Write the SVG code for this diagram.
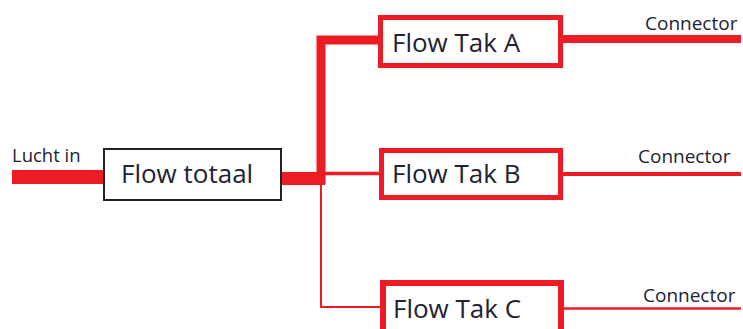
<svg xmlns="http://www.w3.org/2000/svg" width="743" height="329" viewBox="0 0 743 329">
<style>
.ln{fill:none;stroke:#ed1c24;stroke-linejoin:miter;stroke-linecap:butt}
.box{fill:#fff;stroke:#ed1c24}
.t{font-family:"Open Sans","Liberation Sans",sans-serif;fill:#222233}
.big{font-size:26px}
.sm{font-size:19px}
</style>
<rect width="743" height="329" fill="#fff"/>
<g id="connectors">
<path class="ln" d="M12 177H106" stroke-width="14"/>
<path class="ln" d="M280 178.5H325" stroke-width="13"/>
<path class="ln" d="M380 40H321V184" stroke-width="9"/>
<path class="ln" d="M321 173.5H381" stroke-width="3.5"/>
<path class="ln" d="M321 180V307H383" stroke-width="2"/>
<path class="ln" d="M560 39H741" stroke-width="8"/>
<path class="ln" d="M560 174H741" stroke-width="4"/>
<path class="ln" d="M561 308.5H741" stroke-width="2.5"/>
</g>
<g id="lucht-in">
<text class="t" x="12" y="162" font-size="18.5">Lucht in</text>
</g>
<g id="flow-totaal">
<rect x="104" y="149" width="177" height="51" fill="#fff" stroke="#222" stroke-width="2"/>
<text class="t big" x="121" y="183">Flow totaal</text>
</g>
<g id="flow-tak-a">
<rect class="box" x="380.5" y="17.5" width="180" height="48" stroke-width="5"/>
<text class="t big" x="392" y="52">Flow Tak A</text>
</g>
<g id="flow-tak-b">
<rect class="box" x="381.5" y="150.5" width="179" height="47" stroke-width="5"/>
<text class="t big" x="392" y="183">Flow Tak B</text>
</g>
<g id="flow-tak-c">
<rect class="box" x="383" y="283" width="178" height="60" stroke-width="6"/>
<text class="t big" x="393" y="318">Flow Tak C</text>
</g>
<g id="connector-a"><text class="t sm" x="645" y="30">Connector</text></g>
<g id="connector-b"><text class="t sm" x="638" y="163">Connector</text></g>
<g id="connector-c"><text class="t sm" x="643" y="302">Connector</text></g>
</svg>
